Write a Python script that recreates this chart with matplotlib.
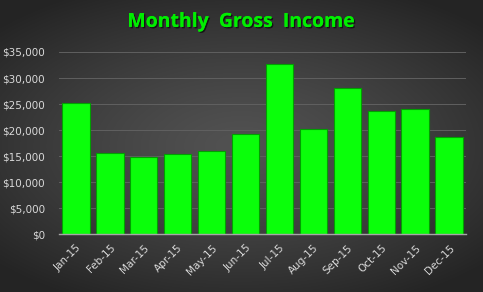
import numpy as np
import matplotlib
matplotlib.use("Agg")
import matplotlib.pyplot as plt
import matplotlib.patheffects as pe
from matplotlib.ticker import FuncFormatter

# data
months = ["Jan-15", "Feb-15", "Mar-15", "Apr-15", "May-15", "Jun-15",
          "Jul-15", "Aug-15", "Sep-15", "Oct-15", "Nov-15", "Dec-15"]
income = [25200, 15600, 14900, 15400, 16000, 19350,
          32750, 20200, 28100, 23600, 24000, 18650]
yticks = [0, 5000, 10000, 15000, 20000, 25000, 30000, 35000]


def monthly_income():
    fig = plt.figure(figsize=(4.83, 2.92), dpi=100)

    # radial gray background, lighter in the middle
    bg = fig.add_axes([0, 0, 1, 1], zorder=-10)
    yy, xx = np.mgrid[-1:1:300j, -1:1:500j]
    r = np.clip(np.sqrt((xx / 1.15) ** 2 + (yy / 1.0) ** 2), 0, 1.2)
    g = 0.32 - 0.14 * r ** 1.3
    img = np.dstack([g, g, g])
    bg.imshow(img, aspect="auto", extent=[0, 1, 0, 1])
    bg.axis("off")

    ax = fig.add_axes([0.122, 0.197, 0.843, 0.625])
    ax.patch.set_alpha(0)
    x = np.arange(len(months))
    ax.bar(x, income, width=0.81, color="#0aff0a", edgecolor="#00a000",
           linewidth=0.8, zorder=3)

    ax.set_xlim(-0.5, len(months) - 0.5)
    ax.set_ylim(0, 35000)
    ax.set_yticks(yticks)
    ax.yaxis.set_major_formatter(FuncFormatter(lambda v, p: "${:,.0f}".format(v)))
    ax.set_xticks(x)
    ax.set_xticklabels(months, rotation=45, ha="right", rotation_mode="anchor")

    ax.grid(axis="y", color="#606060", linewidth=0.7, zorder=0)
    for s in ["top", "right", "left"]:
        ax.spines[s].set_visible(False)
    ax.spines["bottom"].set_color("#a6a6a6")
    ax.spines["bottom"].set_linewidth(1.0)
    ax.spines["bottom"].set_zorder(4)
    ax.tick_params(axis="both", length=0, colors="#d9d9d9", labelsize=7.5)
    ax.tick_params(axis="y", pad=10)
    ax.tick_params(axis="x", pad=6)

    fig.text(0.5, 0.925, "Monthly  Gross  Income", ha="center", va="center",
             color="#00ee00", fontsize=14, fontweight="bold",
             family="Open Sans",
             path_effects=[pe.withSimplePatchShadow(offset=(1, -1),
                                                    shadow_rgbFace="black",
                                                    alpha=0.6),
                           pe.Normal()])

    fig.savefig("out.png", dpi=100)


if __name__ == "__main__":
    monthly_income()
